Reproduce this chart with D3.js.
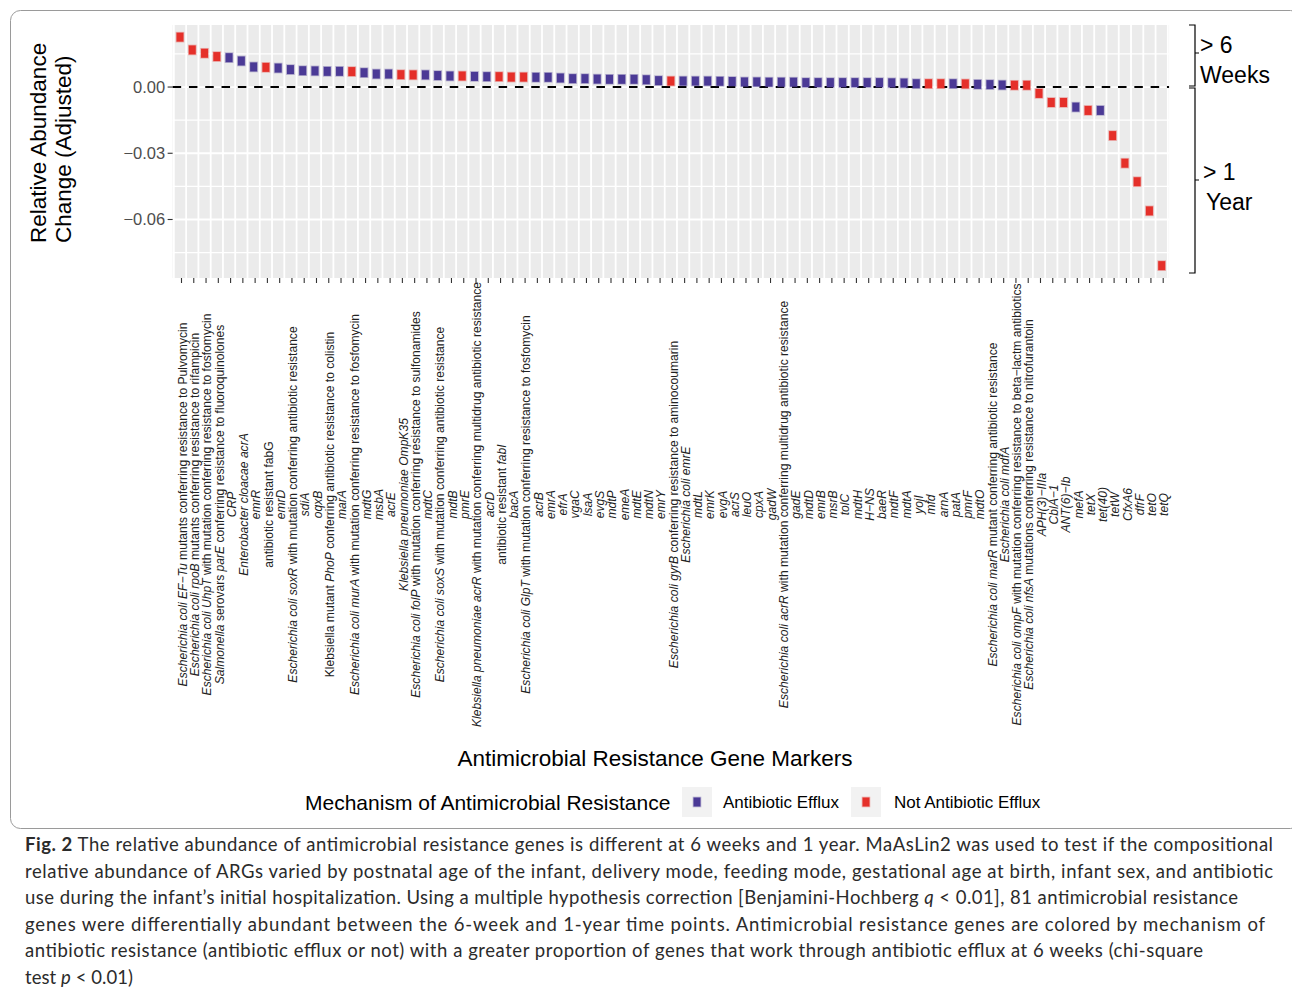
<!DOCTYPE html>
<html>
<head>
<meta charset="utf-8">
<script src="https://cdn.jsdelivr.net/npm/d3@7"></script>
<style>
    body { margin: 0; background: #fff; }
    svg { display: block; }
</style>
</head>
<body>
<svg id="chart" width="1292" height="994"></svg>
<script>
// genes, in plot order (* ... * = italic)
const genes = [
    "*Escherichia coli EF−Tu* mutants conferring resistance to Pulvomycin",
    "*Escherichia coli rpoB* mutants conferring resistance to rifampicin",
    "*Escherichia coli UhpT* with mutation conferring resistance to fosfomycin",
    "*Salmonella* serovars *parE* conferring resistance to fluoroquinolones",
    "*CRP*",
    "*Enterobacter cloacae acrA*",
    "*emrR*",
    "antibiotic resistant fabG",
    "*emrD*",
    "*Escherichia coli soxR* with mutation conferring antibiotic resistance",
    "*sdiA*",
    "*oqxB*",
    "Klebsiella mutant *PhoP* conferring antibiotic resistance to colistin",
    "*marA*",
    "*Escherichia coli murA* with mutation conferring resistance to fosfomycin",
    "*mdtG*",
    "*msbA*",
    "*acrE*",
    "*Klebsiella pneumoniae OmpK35*",
    "*Escherichia coli folP* with mutation conferring resistance to sulfonamides",
    "*mdtC*",
    "*Escherichia coli soxS* with mutation conferring antibiotic resistance",
    "*mdtB*",
    "*pmrE*",
    "*Klebsiella pneumoniae acrR* with mutation conferring multidrug antibiotic resistance",
    "*acrD*",
    "antibiotic resistant *fabI*",
    "*bacA*",
    "*Escherichia coli GlpT* with mutation conferring resistance to fosfomycin",
    "*acrB*", "*emrA*", "*efrA*", "*vgaC*", "*lsaA*", "*evgS*", "*mdtP*", "*emeA*", "*mdtE*", "*mdtN*", "*emrY*",
    "*Escherichia coli gyrB* conferring resistance to aminocoumarin",
    "*Escherichia coli emrE*",
    "*mdtL*", "*emrK*", "*evgA*", "*acrS*", "*leuO*", "*cpxA*", "*gadW*",
    "*Escherichia coli acrR* with mutation conferring multidrug antibiotic resistance",
    "*gadE*", "*mdtD*", "*emrB*", "*msrB*", "*tolC*", "*mdtH*", "*H−NS*", "*baeR*",
    "*mdtF*", "*mdtA*", "*yojI*", "*mfd*", "*arnA*", "*patA*", "*pmrF*", "*mdtO*",
    "*Escherichia coli marR* mutant conferring antibiotic resistance",
    "*Escherichia coli mdfA*",
    "*Escherichia coli ompF* with mutation conferring resistance to beta−lactm antibiotics",
    "*Escherichia coli nfsA* mutations conferring resistance to nitrofurantoin",
    "*APH(3)−IIIa*", "*CblA−1*", "*ANT(6)−Ib*", "*mefA*", "*tetX*", "*tet(40)*",
    "*tetW*", "*CfxA6*", "*dfrF*", "*tetO*", "*tetQ*"
];

// A = Antibiotic Efflux, N = Not Antibiotic Efflux
const mechanism = [
    "N","N","N","N","A","A","A","N","A","A",
    "A","A","A","A","N","A","A","A","N","N",
    "A","A","A","N","A","A","N","N","N","A",
    "A","A","A","A","A","A","A","A","A","A",
    "N","A","A","A","A","A","A","A","A","A",
    "A","A","A","A","A","A","A","A","A","A",
    "A","N","N","A","N","A","A","A","N","N",
    "N","N","N","A","N","A","N","N","N","N",
    "N"
];

const change = [
    0.0226, 0.0168, 0.0153, 0.0138, 0.0133, 0.0118, 0.0091, 0.0089, 0.0086, 0.0079,
    0.0074, 0.0073, 0.0071, 0.0071, 0.0070, 0.0065, 0.0059, 0.0059, 0.0056, 0.0055,
    0.0055, 0.0052, 0.0050, 0.0050, 0.0048, 0.0047, 0.0047, 0.0045, 0.0045, 0.0044,
    0.0044, 0.0041, 0.0038, 0.0038, 0.0036, 0.0035, 0.0035, 0.0035, 0.0033, 0.0029,
    0.0027, 0.0027, 0.0027, 0.0027, 0.0026, 0.0025, 0.0023, 0.0023, 0.0022, 0.0022,
    0.0022, 0.0020, 0.0020, 0.0020, 0.0020, 0.0020, 0.0020, 0.0020, 0.0019, 0.0018,
    0.0015, 0.0015, 0.0015, 0.0015, 0.0014, 0.0012, 0.0011, 0.0009, 0.0008, 0.0008,
    -0.0029, -0.0070, -0.0070, -0.0091, -0.0106, -0.0106, -0.0220, -0.0345, -0.0429, -0.0561,
    -0.0809
];

const yTicks = [0, -0.03, -0.06];
const yMinor = [0.015, -0.015, -0.045, -0.075];
const mechKeys = ["A", "N"];
const mechLabels = ["Antibiotic Efflux", "Not Antibiotic Efflux"];
const mechColors = ["#4b3a96", "#e5302a"];

const captionLines = [
    "**Fig. 2** The relative abundance of antimicrobial resistance genes is different at 6 weeks and 1 year. MaAsLin2 was used to test if the compositional",
    "relative abundance of ARGs varied by postnatal age of the infant, delivery mode, feeding mode, gestational age at birth, infant sex, and antibiotic",
    "use during the infant’s initial hospitalization. Using a multiple hypothesis correction [Benjamini-Hochberg *q* < 0.01], 81 antimicrobial resistance",
    "genes were differentially abundant between the 6-week and 1-year time points. Antimicrobial resistance genes are colored by mechanism of",
    "antibiotic resistance (antibiotic efflux or not) with a greater proportion of genes that work through antibiotic efflux at 6 weeks (chi-square",
    "test *p* < 0.01)"
];
const captionWidths = [1248, 1248, 1213, 1240, 1178, 108];

// split "*x*" / "**x**" markup into tspans
function addRich(textSel, str) {
    str.split(/(\*\*[^*]+\*\*|\*[^*]+\*)/).filter(Boolean).forEach(part => {
        const t = textSel.append("tspan");
        if (part.startsWith("**")) {
            t.attr("font-weight", "bold").text(part.slice(2, -2));
        } else if (part.startsWith("*")) {
            t.attr("font-style", "italic").text(part.slice(1, -1));
        } else {
            t.text(part);
        }
    });
}

function drawChart() {
    const svg = d3.select("#chart");
    const font = "'Liberation Sans', Arial, Helvetica, sans-serif";

    // outer frame
    svg.append("rect")
        .attr("x", 10.5).attr("y", 10.5)
        .attr("width", 1290).attr("height", 818)
        .attr("rx", 10)
        .attr("fill", "none")
        .attr("stroke", "#9a9a9a")
        .attr("stroke-width", 1);

    const x = d3.scalePoint().domain(d3.range(genes.length)).range([180, 1161.7]);
    const step = x.step();
    const y = d3.scaleLinear().domain([-0.0865, 0.0281]).range([278, 25]);
    const colour = d3.scaleOrdinal().domain(mechKeys).range(mechColors);

    const left = x(0) - 0.6 * step, right = x(genes.length - 1) + 0.6 * step;

    // panel
    svg.append("rect")
        .attr("x", left).attr("y", y.range()[1])
        .attr("width", right - left).attr("height", y.range()[0] - y.range()[1])
        .attr("fill", "#ebebeb");

    svg.append("g").selectAll("line")
        .data(yMinor)
        .enter().append("line")
        .attr("x1", left).attr("x2", right)
        .attr("y1", d => y(d)).attr("y2", d => y(d))
        .attr("stroke", "#fff").attr("stroke-width", 1.1);

    svg.append("g").selectAll("line")
        .data(yTicks)
        .enter().append("line")
        .attr("x1", left).attr("x2", right)
        .attr("y1", d => y(d)).attr("y2", d => y(d))
        .attr("stroke", "#fff").attr("stroke-width", 1.8);

    svg.append("g").selectAll("line")
        .data(d3.range(genes.length + 1))
        .enter().append("line")
        .attr("x1", d => x(0) + (d - 0.5) * step).attr("x2", d => x(0) + (d - 0.5) * step)
        .attr("y1", y.range()[1]).attr("y2", y.range()[0])
        .attr("stroke", "#fff").attr("stroke-width", 1.8);

    // zero line
    svg.append("line")
        .attr("x1", left).attr("x2", right)
        .attr("y1", y(0)).attr("y2", y(0))
        .attr("stroke", "#000").attr("stroke-width", 2)
        .attr("stroke-dasharray", "8.5,7.8");

    // points
    svg.append("g").selectAll("rect")
        .data(change)
        .enter().append("rect")
        .attr("x", (d, i) => x(i) - 3.5)
        .attr("y", d => y(d) - 4.5)
        .attr("width", 7).attr("height", 9)
        .attr("fill", (d, i) => colour(mechanism[i]))
        .attr("stroke", (d, i) => colour(mechanism[i]))
        .attr("stroke-opacity", 0.35)
        .attr("stroke-width", 1.6);

    // y axis
    const yAxis = svg.append("g");
    yAxis.selectAll("line")
        .data(yTicks)
        .enter().append("line")
        .attr("x1", left - 5).attr("x2", left)
        .attr("y1", d => y(d)).attr("y2", d => y(d))
        .attr("stroke", "#333").attr("stroke-width", 1.1);
    yAxis.selectAll("text")
        .data(yTicks)
        .enter().append("text")
        .attr("x", left - 7.5).attr("y", d => y(d))
        .attr("dy", "0.36em")
        .attr("text-anchor", "end")
        .attr("font-family", font).attr("font-size", "16.5px")
        .attr("fill", "#4d4d4d")
        .text(d => d3.format(".2f")(d).replace("-", "−"));

    const yTitle = svg.append("text")
        .attr("transform", "translate(46,243) rotate(-90)")
        .attr("font-family", font).attr("font-size", "22.5px")
        .attr("fill", "#000");
    yTitle.append("tspan").attr("x", 0).attr("y", 0).text("Relative Abundance");
    yTitle.append("tspan").attr("x", 0).attr("y", 25).text("Change (Adjusted)");

    // x axis ticks + labels
    svg.append("g").selectAll("line")
        .data(genes)
        .enter().append("line")
        .attr("x1", (d, i) => x(i) + 1.5).attr("x2", (d, i) => x(i) + 1.5)
        .attr("y1", y.range()[0]).attr("y2", y.range()[0] + 5)
        .attr("stroke", "#333").attr("stroke-width", 1.1);

    const lab = svg.append("g")
        .attr("font-family", font).attr("font-size", "12.1px")
        .attr("fill", "#222");
    genes.forEach((g, i) => {
        const t = lab.append("text")
            .attr("transform", `translate(${x(i) + 2.5},504.5) rotate(-90)`)
            .attr("text-anchor", "middle")
            .attr("dy", "0.35em");
        addRich(t, g);
    });

    svg.append("text")
        .attr("x", 655).attr("y", 766)
        .attr("text-anchor", "middle")
        .attr("font-family", font).attr("font-size", "22.5px")
        .attr("fill", "#000")
        .text("Antimicrobial Resistance Gene Markers");

    // period brackets on the right
    const br = svg.append("g").attr("stroke", "#000").attr("stroke-width", 1.2).attr("fill", "none");
    [[25, 86, 53], [88, 273, 180]].forEach(([a, b, m]) => {
        br.append("path").attr("d", `M1189,${a}H1195V${b}H1189M1195,${m}H1199`);
    });
    const brText = svg.append("g")
        .attr("font-family", font).attr("font-size", "23px").attr("fill", "#000");
    [["> 6", 1200, 53], ["Weeks", 1200, 83], ["> 1", 1203, 180], ["Year", 1206, 210]].forEach(([s, tx, ty]) => {
        brText.append("text").attr("x", tx).attr("y", ty).text(s);
    });

    // legend
    const leg = svg.append("g").attr("font-family", font);
    leg.append("text")
        .attr("x", 305).attr("y", 810)
        .attr("font-size", "21px").attr("fill", "#000")
        .text("Mechanism of Antimicrobial Resistance");
    const keyX = [682, 851], textX = [723, 894];
    mechKeys.forEach((k, i) => {
        leg.append("rect")
            .attr("x", keyX[i]).attr("y", 787).attr("width", 30).attr("height", 30)
            .attr("fill", "#f2f2f2");
        leg.append("rect")
            .attr("x", keyX[i] + 11.5).attr("y", 797.5).attr("width", 7).attr("height", 9)
            .attr("fill", colour(k))
            .attr("stroke", colour(k)).attr("stroke-opacity", 0.35).attr("stroke-width", 1.6);
        leg.append("text")
            .attr("x", textX[i]).attr("y", 808)
            .attr("font-size", "17px").attr("fill", "#000")
            .text(mechLabels[i]);
    });

    // caption
    const cap = svg.append("g")
        .attr("font-family", "Lato, 'Open Sans', sans-serif")
        .attr("font-size", "18.5px")
        .attr("fill", "#2b2b2b");
    captionLines.forEach((line, i) => {
        const t = cap.append("text")
            .attr("x", 25).attr("y", 851 + i * 26.6)
            .attr("textLength", captionWidths[i])
            .attr("lengthAdjust", "spacing");
        addRich(t, line);
    });
}

drawChart();
</script>
</body>
</html>
